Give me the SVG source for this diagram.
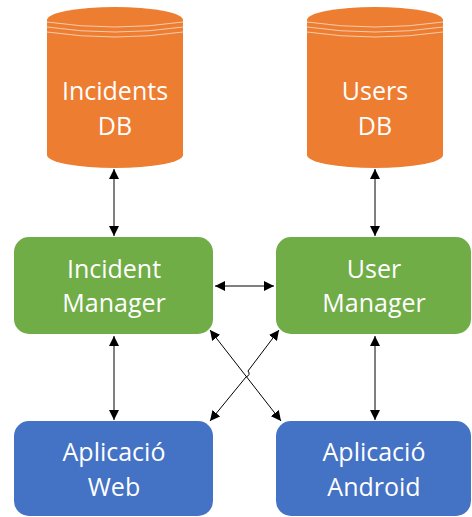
<svg xmlns="http://www.w3.org/2000/svg" width="472" height="517" viewBox="0 0 472 517">
  <style>
    .lbl { font-family: "Open Sans", "Noto Sans", sans-serif; font-size: 25px; fill: #ffffff; text-anchor: middle; }
    .db { fill: #ED7D31; }
    .rim { fill: none; stroke: #F8CBAD; stroke-width: 1; }
    .mgr { fill: #70AD47; }
    .app { fill: #4472C4; }
    .cn { fill: none; stroke: #000000; stroke-width: 1; marker-start: url(#ah); marker-end: url(#ah); }
  </style>
  <defs>
    <marker id="ah" viewBox="0 0 10 10" refX="10" refY="5" markerWidth="10" markerHeight="10" markerUnits="userSpaceOnUse" orient="auto-start-reverse">
      <path d="M0,0 L10,5 L0,10 Z" fill="#000000"/>
    </marker>
  </defs>
  <rect width="472" height="517" fill="#ffffff"/>

  <!-- databases -->
  <g id="incidents-db">
    <path class="db" d="M47,20 A68,13 0 0 1 183,20 L183,155 A68,13 0 0 1 47,155 Z"/>
    <path class="rim" d="M47,22 Q115,32 183,22"/>
    <path class="rim" d="M47,27 Q115,37 183,27"/>
    <path class="rim" d="M47,32 Q115,42 183,32"/>
    <text class="lbl" x="115" y="100">Incidents</text>
    <text class="lbl" x="115" y="135">DB</text>
  </g>
  <g id="users-db">
    <path class="db" d="M307,20 A68,13 0 0 1 443,20 L443,155 A68,13 0 0 1 307,155 Z"/>
    <path class="rim" d="M307,22 Q375,32 443,22"/>
    <path class="rim" d="M307,27 Q375,37 443,27"/>
    <path class="rim" d="M307,32 Q375,42 443,32"/>
    <text class="lbl" x="375" y="100">Users</text>
    <text class="lbl" x="375" y="135">DB</text>
  </g>

  <!-- managers -->
  <g id="incident-manager">
    <rect class="mgr" x="14" y="237" width="199" height="97" rx="15"/>
    <text class="lbl" x="114" y="278">Incident</text>
    <text class="lbl" x="114" y="312">Manager</text>
  </g>
  <g id="user-manager">
    <rect class="mgr" x="276" y="237" width="195" height="97" rx="15"/>
    <text class="lbl" x="374" y="278">User</text>
    <text class="lbl" x="374" y="312">Manager</text>
  </g>

  <!-- client apps -->
  <g id="web-app">
    <rect class="app" x="14" y="421" width="199" height="95" rx="15"/>
    <text class="lbl" x="114" y="461">Aplicació</text>
    <text class="lbl" x="114" y="496">Web</text>
  </g>
  <g id="android-app">
    <rect class="app" x="276" y="421" width="195" height="95" rx="15"/>
    <text class="lbl" x="374" y="461">Aplicació</text>
    <text class="lbl" x="374" y="496">Android</text>
  </g>

  <!-- connectors -->
  <g id="connectors">
    <line class="cn" x1="114" y1="169" x2="114" y2="236"/>
    <line class="cn" x1="375" y1="169" x2="375" y2="236"/>
    <line class="cn" x1="215" y1="286" x2="274" y2="286"/>
    <line class="cn" x1="114" y1="336" x2="114" y2="420"/>
    <line class="cn" x1="375" y1="336" x2="375" y2="420"/>
    <line class="cn" x1="210" y1="330" x2="281" y2="421"/>
    <path class="cn" d="M279,330 L248,371 Q251,375 246,377 L210,421"/>
  </g>
</svg>
